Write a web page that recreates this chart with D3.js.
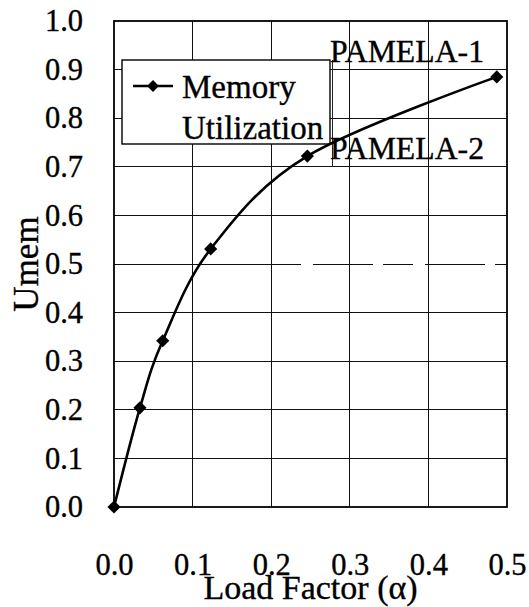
<!DOCTYPE html>
<html>
<head>
<meta charset="utf-8">
<script src="https://cdn.jsdelivr.net/npm/d3@7"></script>
<style>
  html, body { margin: 0; padding: 0; background: #fff; }
  svg { display: block; }
</style>
</head>
<body>
<svg id="chart" width="529" height="607"></svg>
<script>
// ---- data ----
const loadFactor = [0.0, 0.033, 0.062, 0.123, 0.246, 0.487];
const memUtil    = [0.0, 0.204, 0.342, 0.531, 0.722, 0.885];
const xTicks = [0.0, 0.1, 0.2, 0.3, 0.4, 0.5];
const yTicks = [0.0, 0.1, 0.2, 0.3, 0.4, 0.5, 0.6, 0.7, 0.8, 0.9, 1.0];
const seriesName = ["Memory", "Utilization"];
const annotations = [
  { text: "PAMELA-1", y: 0.9 },
  { text: "PAMELA-2", y: 0.7 }
];
const xTitle = "Load Factor (\u03b1)";
const yTitle = "Umem";

const FONT = "'Liberation Serif', 'DejaVu Serif', 'Times New Roman', serif";

// ---- layout ----
const svg = d3.select("#chart");
const L = 114, R = 507, T = 21, B = 507;
const x = d3.scaleLinear().domain([0, 0.5]).range([L, R]);
const y = d3.scaleLinear().domain([0, 1]).range([B, T]);
const fmt = d3.format(".1f");

function styleText(sel, size) {
  return sel.style("font-size", size + "px").style("font-family", FONT)
    .style("fill", "#000").style("stroke", "#000").style("stroke-width", "0.35px");
}

// grid
const grid = svg.append("g").attr("stroke", "#111").attr("stroke-width", 1)
  .attr("shape-rendering", "crispEdges");
xTicks.filter(v => v > 0 && v < 0.5).forEach(v => {
  grid.append("line").attr("x1", x(v)).attr("x2", x(v)).attr("y1", T).attr("y2", B);
});
yTicks.filter(v => v > 0 && v < 1).forEach(v => {
  if (Math.abs(v - 0.5) < 1e-9) {
    grid.append("line").attr("x1", L).attr("x2", x(0.2)).attr("y1", y(v)).attr("y2", y(v));
    grid.append("line").attr("x1", x(0.2)).attr("x2", R).attr("y1", y(v)).attr("y2", y(v))
      .attr("stroke-dasharray", "30,12,60,10");
  } else {
    grid.append("line").attr("x1", L).attr("x2", R).attr("y1", y(v)).attr("y2", y(v));
  }
});

// frame
svg.append("rect").attr("x", L).attr("y", T).attr("width", R - L).attr("height", B - T)
  .attr("fill", "none").attr("stroke", "#000").attr("stroke-width", 1.8);

// axes
const xAxis = svg.append("g").attr("transform", `translate(0,${B})`)
  .call(d3.axisBottom(x).tickValues(xTicks).tickFormat(fmt).tickSize(0).tickPadding(46));
const yAxis = svg.append("g").attr("transform", `translate(${L},0)`)
  .call(d3.axisLeft(y).tickValues(yTicks).tickFormat(fmt).tickSize(0).tickPadding(31));
[xAxis, yAxis].forEach(a => {
  a.select(".domain").remove();
  a.attr("font-family", null);
  styleText(a.selectAll("text"), 30.5);
});

// axis titles
styleText(svg.append("text").attr("x", (L + R) / 2).attr("y", 599).attr("text-anchor", "middle"), 34)
  .text(xTitle);
styleText(svg.append("text").attr("transform", `translate(38,${(T + B) / 2}) rotate(-90)`)
  .attr("text-anchor", "middle"), 35).text(yTitle);

// legend box (white, covers grid)
const lg = { x: 122, y: 60, w: 208, h: 84 };
svg.append("rect").attr("x", lg.x).attr("y", lg.y).attr("width", lg.w).attr("height", lg.h)
  .attr("fill", "#fff").attr("stroke", "#000").attr("stroke-width", 1.4);
svg.append("line").attr("x1", lg.x + lg.w + 2).attr("x2", lg.x + lg.w + 2)
  .attr("y1", lg.y).attr("y2", y(0.7)).attr("stroke", "#222").attr("stroke-width", 1)
  .attr("shape-rendering", "crispEdges");
svg.append("line").attr("x1", 133).attr("x2", 173).attr("y1", 86).attr("y2", 86)
  .attr("stroke", "#000").attr("stroke-width", 2.4);
svg.append("path").attr("d", d3.symbol(d3.symbolDiamond2, 90)())
  .attr("transform", "translate(153,86)").attr("fill", "#000");
styleText(svg.append("text").attr("x", 182).attr("y", 98), 33).text(seriesName[0]);
styleText(svg.append("text").attr("x", 182).attr("y", 139), 33).text(seriesName[1]);

// curve
const pts = loadFactor.map((v, i) => [v, memUtil[i]]);
svg.append("path").datum(pts)
  .attr("d", d3.line().x(d => x(d[0])).y(d => y(d[1])).curve(d3.curveCardinal.tension(0)))
  .attr("fill", "none").attr("stroke", "#000").attr("stroke-width", 2.6);
svg.selectAll("path.mk").data(pts).join("path").attr("class", "mk")
  .attr("d", d3.symbol(d3.symbolDiamond2, 110)())
  .attr("transform", d => `translate(${x(d[0])},${y(d[1])})`).attr("fill", "#000");

// annotations
annotations.forEach(a => {
  styleText(svg.append("text").attr("x", 330).attr("y", y(a.y) - 8), 32)
    .attr("textLength", 154).attr("lengthAdjust", "spacingAndGlyphs").text(a.text);
});
</script>
</body>
</html>
